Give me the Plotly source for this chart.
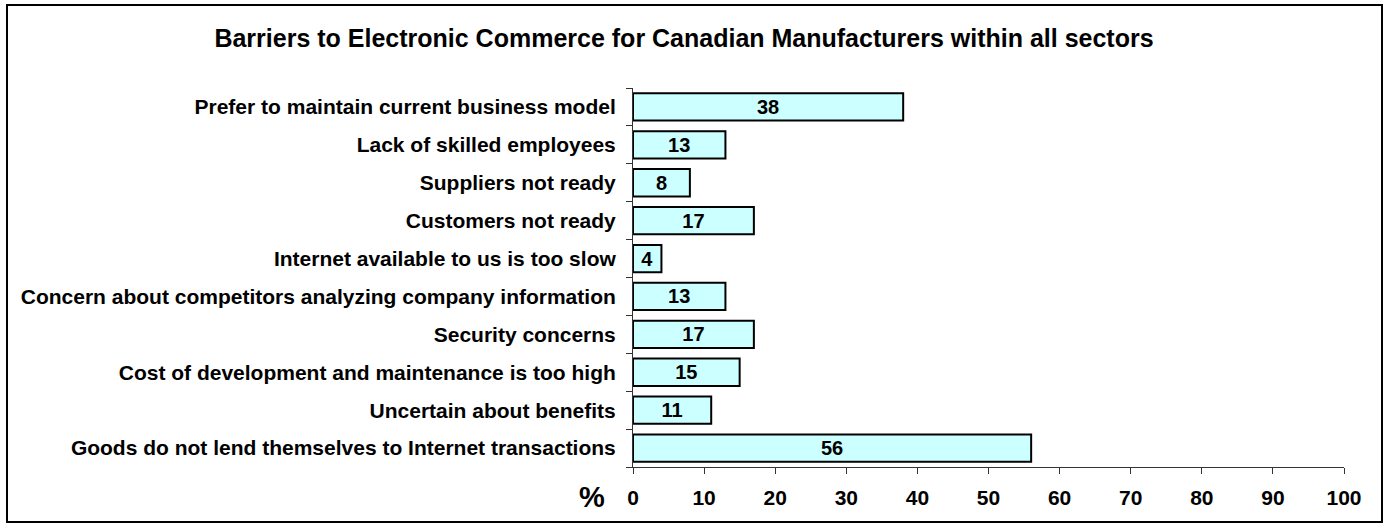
import plotly.graph_objects as go

# Survey results, listed top to bottom as shown on the chart
barriers = [
    "Prefer to maintain current business model",
    "Lack of skilled employees",
    "Suppliers not ready",
    "Customers not ready",
    "Internet available to us is too slow",
    "Concern about competitors analyzing company information",
    "Security concerns",
    "Cost of development and maintenance is too high",
    "Uncertain about benefits",
    "Goods do not lend themselves to Internet transactions",
]
percent = [38, 13, 8, 17, 4, 13, 17, 15, 11, 56]
x_ticks = [0, 10, 20, 30, 40, 50, 60, 70, 80, 90, 100]

FONT = "Liberation Sans, Arial, sans-serif"

W, H = 1385, 525
L, R, T, B = 633, 41, 88, 58
pw, ph = W - L - R, H - T - B

fig = go.Figure(
    go.Bar(
        x=percent,
        y=barriers,
        orientation="h",
        marker=dict(color="#CCFFFF", line=dict(color="#000000", width=2)),
        text=[str(v) for v in percent],
        textposition="inside",
        insidetextanchor="middle",
        textangle=0,
        constraintext="none",
        textfont=dict(family=FONT, size=20, color="#000000", weight="bold"),
        width=0.72,
        hoverinfo="skip",
    )
)

fig.update_layout(
    width=W,
    height=H,
    margin=dict(l=L, r=R, t=T, b=B, pad=0),
    paper_bgcolor="white",
    plot_bgcolor="white",
    showlegend=False,
    font=dict(family=FONT, color="#000000"),
    title=dict(
        text="<b>Barriers to Electronic Commerce for Canadian Manufacturers within all sectors</b>",
        x=684 / W,
        xanchor="center",
        y=1 - 38 / H,
        yanchor="middle",
        font=dict(family=FONT, size=25, color="#000000"),
    ),
    xaxis=dict(
        range=[0, 100],
        tickvals=x_ticks,
        ticktext=[f"<b>{v}</b>" for v in x_ticks],
        tickfont=dict(family=FONT, size=21, color="#000000"),
        ticks="outside",
        ticklen=6,
        tickcolor="#333333",
        ticklabelstandoff=6,
        showline=True,
        linecolor="#333333",
        linewidth=1,
        showgrid=False,
        zeroline=False,
        fixedrange=True,
    ),
    yaxis=dict(
        autorange="reversed",
        tickmode="array",
        tickvals=barriers,
        ticktext=[f"<b>{b}</b>" for b in barriers],
        tickfont=dict(family=FONT, size=21, color="#000000"),
        ticks="outside",
        tickson="boundaries",
        ticklen=6,
        tickcolor="#333333",
        ticklabelstandoff=12,
        showline=True,
        linecolor="#333333",
        linewidth=1,
        showgrid=False,
        zeroline=False,
        fixedrange=True,
    ),
    annotations=[
        dict(
            text="<b>%</b>",
            xref="paper",
            yref="paper",
            x=(592 - L) / pw,
            y=-(497 - (T + ph)) / ph,
            xanchor="center",
            yanchor="middle",
            showarrow=False,
            font=dict(family=FONT, size=29, color="#000000"),
        )
    ],
    shapes=[
        dict(
            type="rect",
            xref="paper",
            yref="paper",
            x0=(7 - L) / pw,
            x1=(1382 - L) / pw,
            y0=-(522 - (T + ph)) / ph,
            y1=1 + (T - 5) / ph,
            line=dict(color="#000000", width=2),
            fillcolor="rgba(0,0,0,0)",
            layer="below",
        )
    ],
)

fig.write_html("out.html")
